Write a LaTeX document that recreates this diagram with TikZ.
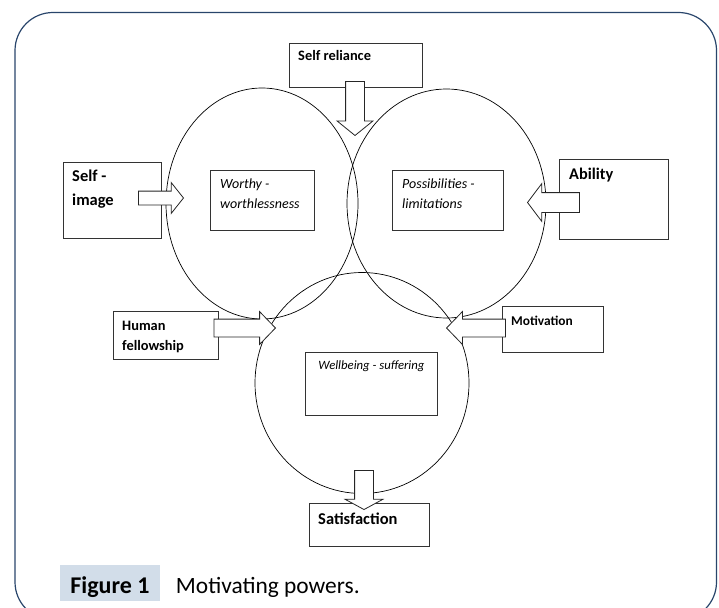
\documentclass[tikz,border=0pt]{standalone}
\usepackage{fontspec}
\setmainfont{Carlito}
\usetikzlibrary{shapes.geometric, shapes.arrows, positioning}
\definecolor{framecol}{RGB}{41,69,107}
\definecolor{figbg}{RGB}{210,221,233}
\tikzset{ring/.style={ellipse, draw=black, line width=.7pt, inner sep=0pt},
         box/.style={rectangle, draw=black!80, line width=.9pt, fill=white, inner sep=0pt, anchor=north west},
         push/.style={single arrow, draw=black!85, line width=.8pt, fill=white, inner xsep=0pt, single arrow head indent=0pt, anchor=tip},
         tag/.style={inner sep=0pt, anchor=base west, align=left},
         mood/.style={inner sep=0pt, anchor=base west, align=left, font=\fontsize{14}{20}\selectfont\itshape}}

\begin{document}
\begin{tikzpicture}[x=1pt, y=-1pt]
    \useasboundingbox (0,0) rectangle (719,607);
    \clip (0,0) rectangle (719,607);
    \draw[framecol, line width=1.2pt, rounded corners=38pt] (15,12.5) rectangle (716.5,620);

    % the three fields
    \node[ring, minimum width=192pt, minimum height=231pt] (worth) at (262,203.5) {};
    \node[ring, minimum width=199pt, minimum height=229pt] (poss) at (446.5,203.5) {};
    \node[ring, minimum width=214pt, minimum height=221pt] (well) at (362,383) {};

    % boxes
    \node[box, minimum width=133pt, minimum height=44pt] (reliance) at (289,43) {};
    \node[box, minimum width=98pt, minimum height=76pt] (selfimage) at (63,162) {};
    \node[box, minimum width=109pt, minimum height=80pt] (ability) at (559,158.5) {};
    \node[box, minimum width=105pt, minimum height=48pt] (fellow) at (113,311) {};
    \node[box, minimum width=101pt, minimum height=46pt] (motiv) at (502,306) {};
    \node[box, minimum width=120pt, minimum height=43pt] (satisf) at (309,503) {};
    \node[box, minimum width=104pt, minimum height=60pt] (worthbox) at (210,170) {};
    \node[box, minimum width=111pt, minimum height=60pt] (possbox) at (392,170) {};
    \node[box, minimum width=132pt, minimum height=63pt] (wellbox) at (305,352) {};

    % arrows (shaft = 2 x inner ysep)
    \node[push, rotate=-90, minimum height=54pt, inner ysep=9pt, single arrow head extend=8.5pt, single arrow tip angle=102] (reliancearrow) at (355,136) {};
    \node[push, minimum height=45pt, inner ysep=6.5pt, single arrow head extend=8.5pt, single arrow tip angle=103] (selfimagearrow) at (184,198) {};
    \node[push, rotate=180, minimum height=52pt, inner ysep=9.5pt, single arrow head extend=9pt, single arrow tip angle=106] (abilityarrow) at (527,202.5) {};
    \node[push, minimum height=61.5pt, inner ysep=8.5pt, single arrow head extend=7.5pt, single arrow tip angle=92] (fellowarrow) at (276,328) {};
    \node[push, rotate=180, minimum height=59pt, inner ysep=8.5pt, single arrow head extend=7.5pt, single arrow tip angle=92] (motivarrow) at (446,328) {};
    \node[push, rotate=-90, minimum height=39pt, inner ysep=9pt, single arrow head extend=9.5pt, single arrow tip angle=123] (satisfarrow) at (364,510) {};

    % texts (base = last line)
    \node[tag, font=\fontsize{14.4}{20}\selectfont\bfseries] (reliancetxt) at ([shift={(9,18)}]reliance.north west) {Self reliance};
    \node[tag, font=\fontsize{16.5}{23.5}\selectfont\bfseries] (selfimagetxt) at ([shift={(9,43)}]selfimage.north west) {Self -\\image};
    \node[tag, font=\fontsize{16.3}{23}\selectfont\bfseries] (abilitytxt) at ([shift={(10,21)}]ability.north west) {Ability};
    \node[tag, font=\fontsize{14.4}{20}\selectfont\bfseries] (fellowtxt) at ([shift={(9,39)}]fellow.north west) {Human\\fellowship};
    \node[tag, font=\fontsize{13.4}{20}\selectfont\bfseries] (motivtxt) at ([shift={(9,19)}]motiv.north west) {Motivation};
    \node[tag, font=\fontsize{16.5}{23}\selectfont\bfseries] (satisftxt) at ([shift={(9,21)}]satisf.north west) {Satisfaction};
    \node[mood] (worthtxt) at ([shift={(10,38)}]worthbox.north west) {Worthy -\\worthlessness};
    \node[mood] (posstxt) at ([shift={(10,38)}]possbox.north west) {Possibilities -\\limitations};
    \node[mood, anchor=base, font=\fontsize{12.7}{18}\selectfont\itshape] (welltxt) at ([yshift=-17pt]wellbox.north) {Wellbeing - suffering};

    % caption
    \node[fill=figbg, inner xsep=10pt, inner ysep=8pt, text height=20pt, text depth=0pt, anchor=base, font=\fontsize{24}{28}\selectfont\bfseries] (fignum) at (110,593) {Figure 1};
    \node[inner sep=0pt, anchor=base west, font=\fontsize{23.4}{28}\selectfont] (figcap) at ([xshift=16pt]fignum.base east) {Motivating powers.};
\end{tikzpicture}
\end{document}
